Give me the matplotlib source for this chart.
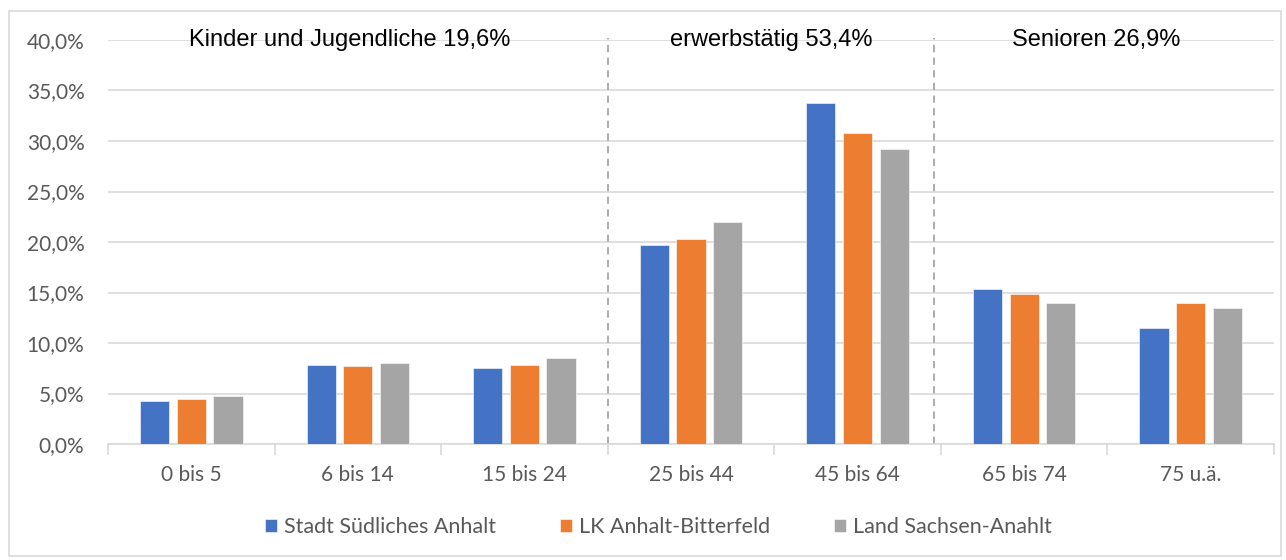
import numpy as np
import matplotlib.pyplot as plt
from matplotlib.patches import Rectangle
from matplotlib.ticker import FuncFormatter

# Altersgruppen und Anteile (%)
categories = ["0 bis 5", "6 bis 14", "15 bis 24", "25 bis 44", "45 bis 64", "65 bis 74", "75 u.ä."]
stadt = [4.3, 7.8, 7.5, 19.7, 33.8, 15.4, 11.5]
landkreis = [4.5, 7.7, 7.8, 20.3, 30.8, 14.9, 14.0]
land = [4.8, 8.0, 8.5, 22.0, 29.2, 14.0, 13.5]
series_names = ["Stadt Südliches Anhalt", "LK Anhalt-Bitterfeld", "Land Sachsen-Anahlt"]
group_labels = ["Kinder und Jugendliche 19,6%", "erwerbstätig 53,4%", "Senioren 26,9%"]

colors = ["#4472C4", "#ED7D31", "#A5A5A5"]
tick_color = "#595959"
grid_color = "#D9D9D9"
label_font = ["Lato", "DejaVu Sans"]

fig = plt.figure(figsize=(12.86, 5.6), dpi=100)
ax = fig.add_axes([0.084, 0.207, 0.9066, 0.7216])

x = np.arange(len(categories))
offset = 0.22
width = 0.175
for i, vals in enumerate([stadt, landkreis, land]):
    ax.bar(x + (i - 1) * offset, vals, width, color=colors[i], label=series_names[i],
           edgecolor="white", linewidth=0.4, zorder=3)

ax.set_xlim(-0.5, len(categories) - 0.5)
ax.set_ylim(0, 40)
ax.set_yticks(np.arange(0, 41, 5))
ax.yaxis.set_major_formatter(FuncFormatter(lambda v, p: f"{v:.1f}".replace(".", ",") + "%"))
ax.grid(axis="y", color=grid_color, linewidth=1.2, zorder=0)
ax.tick_params(axis="y", length=0, pad=17, labelsize=15, labelcolor=tick_color)

# Kategoriegrenzen als Ticks, Beschriftungen mittig
ax.set_xticks(np.arange(-0.5, len(categories), 1.0))
ax.set_xticklabels([])
ax.set_xticks(x, minor=True)
ax.set_xticklabels(categories, minor=True)
ax.tick_params(axis="x", which="major", length=8, width=1.2, color=grid_color, direction="out")
ax.tick_params(axis="x", which="minor", length=0, pad=15, labelsize=15, labelcolor=tick_color)

for s in ["top", "right", "left"]:
    ax.spines[s].set_visible(False)
ax.spines["bottom"].set_color(grid_color)
ax.spines["bottom"].set_linewidth(1.2)

# Gruppentrenner
for xv in [2.5, 4.46]:
    ax.axvline(xv, ymin=0, ymax=1.005, color="#A6A6A6", linestyle=(0, (4, 3)), linewidth=1.3,
               zorder=2, clip_on=False)

for xt, txt in zip([0.95, 3.48, 5.43], group_labels):
    ax.text(xt, 40.0, txt, ha="center", va="center", fontsize=17, color="black",
            family=["Liberation Sans", "DejaVu Sans"], zorder=4)

leg = ax.legend(loc="center", bbox_to_anchor=(0.512, 0.059), bbox_transform=fig.transFigure,
                ncol=3, frameon=False, fontsize=15.5, labelcolor=tick_color,
                handlelength=0.55, handleheight=0.55, handletextpad=0.3, columnspacing=3.0)

# Rahmen um die gesamte Grafik
fig.patches.append(Rectangle((0.007, 0.008), 0.989, 0.972, transform=fig.transFigure,
                             fill=False, edgecolor=grid_color, linewidth=1.2))

for lab in ax.get_yticklabels() + ax.get_xticklabels(minor=True) + leg.get_texts():
    lab.set_family(label_font)

fig.savefig("out.png", dpi=100)
